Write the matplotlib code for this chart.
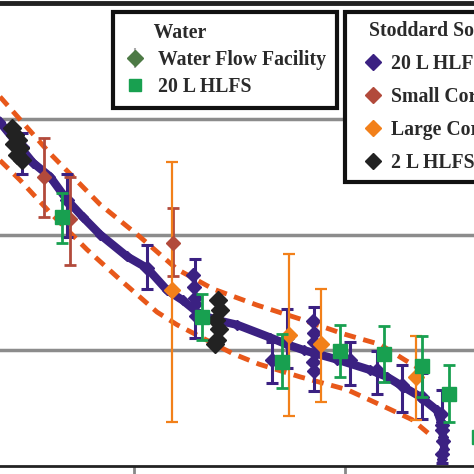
import numpy as np
import matplotlib
matplotlib.use('Agg')
import matplotlib.pyplot as plt
from matplotlib.lines import Line2D

# --- data (arbitrary units, axis labels are cropped away) ---
# Stoddard solvent, 20 L HLFS: dense trend
s20_x = [0.365, 0.445, 0.521, 0.602, 0.682, 0.758, 0.839, 0.967, 1.062, 1.156, 1.232,
         1.313, 1.393, 1.488, 1.645, 1.725, 1.806, 1.962, 2.118, 2.199,
         2.280, 2.355, 2.436, 2.455, 2.465, 2.470, 2.460]
s20_y = [2.97, 2.79, 2.62, 2.50, 2.30, 2.15, 2.00, 1.81, 1.71, 1.52, 1.43,
         1.31, 1.26, 1.22, 1.11, 1.05, 1.00, 0.92, 0.83, 0.77,
         0.68, 0.60, 0.48, 0.38, 0.25, 0.15, 0.06]
# 20 L HLFS points that carry error bars
s20e_x = [0.469, 0.682, 1.062, 1.289, 1.654, 1.725, 1.853, 2.024, 2.152, 2.270, 2.365, 2.460]
s20e_y = [2.76, 2.30, 1.71, 1.45, 0.92, 1.11, 1.07, 0.92, 0.83, 0.70, 0.60, 0.31]
s20e_lo = [0.24, 0.32, 0.18, 0.34, 0.20, 0.26, 0.42, 0.22, 0.21, 0.23, 0.19, 0.28]
s20e_hi = [0.12, 0.22, 0.20, 0.34, 0.15, 0.25, 0.30, 0.15, 0.16, 0.17, 0.20, 0.35]
# clusters of the 20 L HLFS series
s20c_x = [1.280, 1.285, 1.290, 1.294, 1.848, 1.852, 1.856, 1.850, 1.854, 2.455, 2.460, 2.465, 2.458]
s20c_y = [1.65, 1.55, 1.40, 1.30, 1.25, 1.15, 0.98, 0.90, 0.82, 0.45, 0.35, 0.22, 0.10]

# Water, 20 L HLFS
w20_x = [0.659, 1.322, 1.701, 1.976, 2.185, 2.365, 2.493, 2.635]
w20_y = [2.15, 1.29, 0.90, 0.99, 0.97, 0.86, 0.62, 0.25]
w20_lo = [0.22, 0.20, 0.23, 0.22, 0.24, 0.26, 0.24, 0.0]
w20_hi = [0.21, 0.20, 0.24, 0.23, 0.24, 0.26, 0.25, 0.0]

# Small Coriolis
sc_x = [0.573, 0.697, 1.185]
sc_y = [2.50, 2.13, 1.93]
sc_lo = [0.35, 0.39, 0.29]
sc_hi = [0.33, 0.37, 0.30]

# Large Coriolis
lc_x = [1.180, 1.735, 1.886, 2.336]
lc_y = [1.52, 1.13, 1.05, 0.77]
lc_lo = [1.14, 0.70, 0.50, 0.37]
lc_hi = [1.11, 0.70, 0.48, 0.35]

# 2 L HLFS clusters
s2_x = [0.422, 0.436, 0.450, 0.460, 0.445, 0.469, 0.430, 1.398, 1.408, 1.389, 1.403, 1.393, 1.384]
s2_y = [2.92, 2.86, 2.82, 2.75, 2.69, 2.64, 2.78, 1.43, 1.35, 1.26, 1.18, 1.09, 1.05]

# uncertainty band (dashed)
up_x = [0.365, 0.602, 0.839, 1.028, 1.204, 1.374, 1.583, 1.787, 1.995, 2.166, 2.280, 2.389]
up_y = [3.19, 2.70, 2.26, 1.98, 1.70, 1.53, 1.39, 1.27, 1.14, 1.05, 0.92, 0.80]
lo_x = [0.365, 0.460, 0.602, 0.777, 0.934, 1.109, 1.204, 1.469, 1.592, 1.787, 2.009,
        2.213, 2.318, 2.403]
lo_y = [2.64, 2.47, 2.19, 1.87, 1.61, 1.33, 1.22, 0.97, 0.88, 0.77, 0.66, 0.49, 0.40, 0.27]

purple = '#3b2182'
green = '#18a050'
brown = '#b24a3b'
orange = '#f2801a'
dash_c = '#e8581a'
black = '#222222'
dgreen = '#4d7a45'

plt.rcParams['font.family'] = ['Liberation Serif', 'DejaVu Serif']

fig = plt.figure(figsize=(4.74, 4.74), dpi=100)
ax = fig.add_axes([0, 8/474, 1, 463/474])
ax.set_xlim(0.365, 2.611)
ax.set_ylim(0, 4)

ax.plot(up_x, up_y, color=dash_c, lw=3.5, dashes=(2.4, 1.6), zorder=2)
ax.plot(lo_x, lo_y, color=dash_c, lw=3.5, dashes=(2.4, 1.6), zorder=2)

ax.plot(s20_x, s20_y, color=purple, lw=6, marker='D', ms=5, zorder=3)
ax.plot(s20c_x, s20c_y, ls='none', color=purple, marker='D', ms=7, zorder=3)
ax.errorbar(s20e_x, s20e_y, yerr=[s20e_lo, s20e_hi], fmt='D', color=purple, ms=7,
            elinewidth=2.2, capsize=4, capthick=2.2, zorder=4)

ax.errorbar(sc_x, sc_y, yerr=[sc_lo, sc_hi], fmt='D', color=brown, ms=7,
            elinewidth=2, capsize=4, capthick=2, zorder=5)
ax.errorbar(lc_x, lc_y, yerr=[lc_lo, lc_hi], fmt='D', color=orange, ms=8,
            elinewidth=1.6, capsize=4, capthick=1.6, zorder=5)
ax.errorbar(w20_x, w20_y, yerr=[w20_lo, w20_hi], fmt='s', color=green, ms=10,
            elinewidth=2, capsize=4, capthick=2, zorder=6)
ax.plot(s2_x, s2_y, ls='none', marker='D', color=black, ms=9, zorder=6)

ax.set_yticks([1, 2, 3])
ax.set_yticklabels([])
ax.yaxis.grid(True, color='#8c8c8c', lw=2.5)
ax.tick_params(axis='y', length=0)
ax.set_xticks([1, 2])
ax.set_xticklabels([])
ax.tick_params(axis='x', direction='out', length=7, width=2, color='#888888')
for s in ['left', 'right']:
    ax.spines[s].set_visible(False)
ax.spines['top'].set_linewidth(3.5)
ax.spines['top'].set_color('#222222')
ax.spines['bottom'].set_linewidth(2)
ax.spines['bottom'].set_color('#222222')

# legends
wf = ax.errorbar([], [], yerr=[], fmt='D', color=dgreen, ecolor='#aaaaaa', ms=8)
h1 = [wf, Line2D([], [], ls='none', marker='s', color=green, ms=9)]
l1 = ['Water Flow Facility', '20 L HLFS']
h2 = [Line2D([], [], ls='none', marker='D', color=c, ms=8) for c in [purple, brown, orange, black]]
l2 = ['20 L HLFS', 'Small Coriolis', 'Large Coriolis', '2 L HLFS']

fp = dict(weight='bold', size=14.2)
leg1 = fig.legend(h1, l1, title='      Water', loc='upper left',
                  bbox_to_anchor=(113/474, 1 - 12/474), borderaxespad=0,
                  prop=fp, title_fontproperties=fp, fancybox=False, edgecolor='#111111',
                  framealpha=1, alignment='left', handlelength=1.09, handletextpad=0.66,
                  labelspacing=0.36, borderpad=0.55)
leg1.get_frame().set_linewidth(3)
leg2 = fig.legend(h2, l2, title='   Stoddard Solvent', loc='upper left',
                  bbox_to_anchor=(345/474, 1 - 12/474), borderaxespad=0,
                  prop=fp, title_fontproperties=fp, fancybox=False, edgecolor='#111111',
                  framealpha=1, alignment='left', handlelength=1.9, handletextpad=0.0,
                  labelspacing=0.66, borderpad=0.45)
leg2.get_frame().set_linewidth(3)
for t in leg1.get_texts() + leg2.get_texts() + [leg1.get_title(), leg2.get_title()]:
    t.set_color('#2a2a2a')

fig.savefig('out.png', dpi=100)
